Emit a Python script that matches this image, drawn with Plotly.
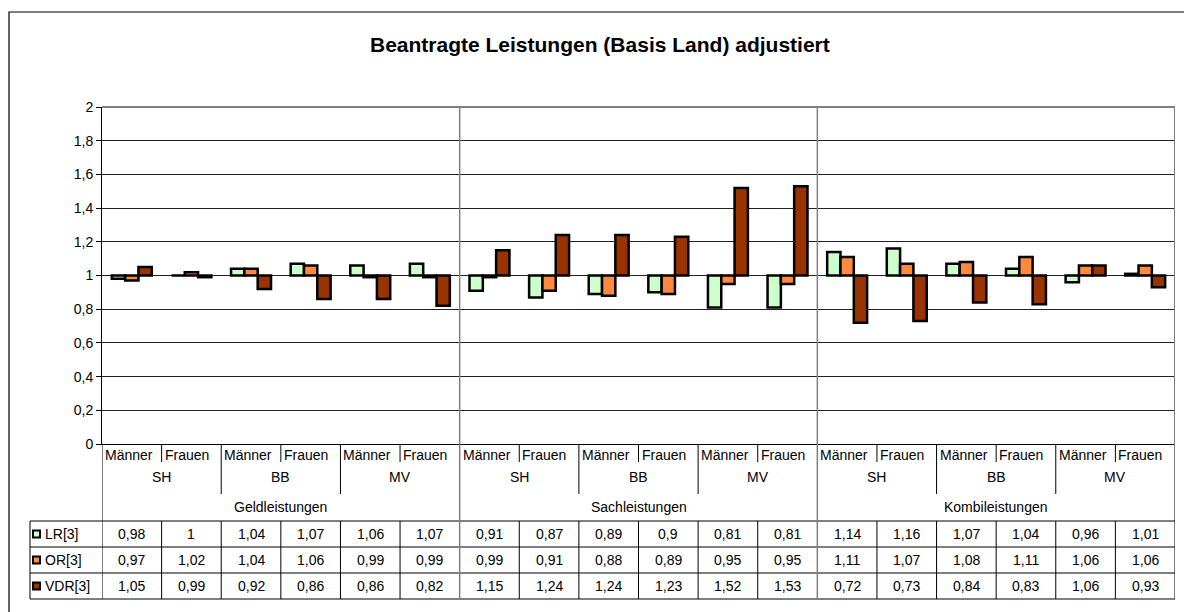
import plotly.graph_objects as go

# ---- data ----
genders = ["Männer", "Frauen"]
states = ["SH", "BB", "MV"]
groups = ["Geldleistungen", "Sachleistungen", "Kombileistungen"]
series_names = ["LR[3]", "OR[3]", "VDR[3]"]
LR = [0.98, 1, 1.04, 1.07, 1.06, 1.07, 0.91, 0.87, 0.89, 0.9, 0.81, 0.81, 1.14, 1.16, 1.07, 1.04, 0.96, 1.01]
OR = [0.97, 1.02, 1.04, 1.06, 0.99, 0.99, 0.99, 0.91, 0.88, 0.89, 0.95, 0.95, 1.11, 1.07, 1.08, 1.11, 1.06, 1.06]
VDR = [1.05, 0.99, 0.92, 0.86, 0.86, 0.82, 1.15, 1.24, 1.24, 1.23, 1.52, 1.53, 0.72, 0.73, 0.84, 0.83, 1.06, 0.93]
yticks = [0, 0.2, 0.4, 0.6, 0.8, 1, 1.2, 1.4, 1.6, 1.8, 2]
BASE = 1

series = [LR, OR, VDR]
colors = ["#CCFFCC", "#FF8A3D", "#993300"]

W, H = 1184, 612
L, R, T, B = 102, 1175, 107, 444
FONT = "Liberation Sans, Arial, sans-serif"

def px(x):
    return (x - L) / (R - L)

def py(y):
    return (B - y) / (B - T)

n = len(LR)
xs = list(range(n))

fig = go.Figure()
for name, vals, col in zip(series_names, series, colors):
    fig.add_trace(go.Bar(
        x=xs, y=[v - BASE for v in vals], base=BASE, name=name,
        marker=dict(color=col, line=dict(color="black", width=2.5)),
        showlegend=False,
    ))

shapes = []
ann = []

def hline(y, x0, x1, color="black", width=1, xref="paper"):
    shapes.append(dict(type="line", xref=xref, yref="paper", x0=x0, x1=x1,
                       y0=py(y), y1=py(y), line=dict(color=color, width=width)))

def vline(x, y0, y1, color="black", width=1, xref="x"):
    shapes.append(dict(type="line", xref=xref, yref="paper", x0=x, x1=x,
                       y0=py(y0), y1=py(y1), line=dict(color=color, width=width)))

# outer frame
shapes.append(dict(type="rect", xref="paper", yref="paper", x0=px(9), x1=px(1200),
                   y0=py(12), y1=py(640), line=dict(color="black", width=1.2)))
# plot area top border
hline(T, 0, 1, color="#808080", width=2)
# right border down through table
vline(n - 0.5, T, 599, color="#808080", width=2)
# left line through labels/table
vline(-0.5, B, 599, color="black", width=1)

# table horizontal lines
for y in [521, 547, 573, 599]:
    hline(y, px(30), 1)
vline(px(30), 521, 599, xref="paper")

# vertical lines in table rows and label area
for k in range(1, n):
    xb = k - 0.5
    if k % 6 == 0:
        vline(xb, T, 599, color="#808080", width=1.5)
    else:
        vline(xb, 521, 599)
        if k % 2 == 0:
            vline(xb, B, 494)
        else:
            vline(xb, B, 462)

tf = dict(family=FONT, size=14, color="black")

def fmt(v):
    return f"{v:g}".replace(".", ",")

# category labels
for i in range(n):
    ann.append(dict(x=i - 0.5, y=py(455), xref="x", yref="paper", text=genders[i % 2],
                    xanchor="left", yanchor="middle", xshift=1, showarrow=False, font=tf))
for j in range(n // 2):
    ann.append(dict(x=2 * j + 0.5, y=py(477), xref="x", yref="paper", text=states[j % 3],
                    xanchor="center", yanchor="middle", showarrow=False, font=tf))
for g in range(3):
    ann.append(dict(x=6 * g + 2.5, y=py(507), xref="x", yref="paper", text=groups[g],
                    xanchor="center", yanchor="middle", showarrow=False, font=tf))

# data table
row_y = [534, 560, 586]
for r, (name, vals, col) in enumerate(zip(series_names, series, colors)):
    for i, v in enumerate(vals):
        ann.append(dict(x=i, y=py(row_y[r]), xref="x", yref="paper", text=fmt(v),
                        xanchor="center", yanchor="middle", showarrow=False, font=tf))
    ann.append(dict(x=px(43), y=py(row_y[r]), xref="paper", yref="paper", text=name,
                    xanchor="left", yanchor="middle", showarrow=False, font=tf))
    shapes.append(dict(type="rect", xref="paper", yref="paper", x0=px(33), x1=px(40),
                       y0=py(row_y[r] - 3.5), y1=py(row_y[r] + 3.5),
                       fillcolor=col, line=dict(color="black", width=2)))

# title
ann.append(dict(x=px(600), y=py(44), xref="paper", yref="paper",
                text="<b>Beantragte Leistungen (Basis Land) adjustiert</b>",
                xanchor="center", yanchor="middle", showarrow=False,
                font=dict(family=FONT, size=21, color="black")))

fig.update_layout(
    width=W, height=H,
    margin=dict(l=L, r=W - R, t=T, b=H - B, pad=0),
    paper_bgcolor="white", plot_bgcolor="white",
    barmode="group", bargap=0.33, bargroupgap=0,
    separators=", ",
    shapes=shapes, annotations=ann,
    font=dict(family=FONT, size=14, color="black"),
    xaxis=dict(range=[-0.5, n - 0.5], showticklabels=False, ticks="", showgrid=False,
               zeroline=False, showline=True, linecolor="black", linewidth=1),
    yaxis=dict(range=[0, 2], tickvals=yticks, ticktext=[fmt(v) for v in yticks],
               ticks="outside", ticklen=5, tickcolor="black", showgrid=True,
               gridcolor="#222222", gridwidth=1, zeroline=False, showline=True,
               linecolor="black", linewidth=1, tickfont=dict(family=FONT, size=14)),
)

fig.write_html("out.html", config={"displayModeBar": False},
               post_script="document.body.style.margin='0';")
